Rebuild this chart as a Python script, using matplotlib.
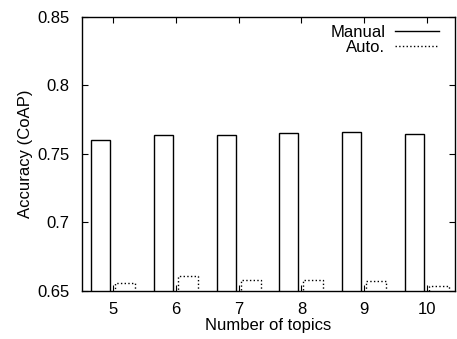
import numpy as np
import matplotlib
matplotlib.use("Agg")
import matplotlib.pyplot as plt
from matplotlib.lines import Line2D

plt.rcParams['font.family'] = ['Liberation Sans', 'DejaVu Sans']

topics = [5, 6, 7, 8, 9, 10]
manual = [0.760, 0.7637, 0.7637, 0.765, 0.766, 0.7645]
auto = [0.6555, 0.661, 0.658, 0.658, 0.657, 0.6535]

x = np.array(topics)
fig = plt.figure(figsize=(4.57, 3.39), dpi=100)
ax = fig.add_axes([0.179, 0.142, 0.817, 0.808])

ax.bar(x - 0.2, manual, width=0.3, bottom=0, facecolor='white',
       edgecolor='black', linewidth=1.0, label='Manual')
ax.bar(x + 0.19, auto, width=0.32, bottom=0, facecolor='white',
       edgecolor='black', linewidth=1.0, linestyle=':', label='Auto.')

ax.set_xlim(4.5, 10.45)
ax.set_ylim(0.65, 0.85)
ax.set_xticks(topics)
ax.set_yticks([0.65, 0.7, 0.75, 0.8, 0.85])
ax.set_yticklabels(['0.65', '0.7', '0.75', '0.8', '0.85'])
ax.tick_params(direction='in', top=True, right=True, labelsize=12, length=4)
ax.tick_params(axis='y', pad=9)
ax.tick_params(axis='x', pad=8)
for s in ax.spines.values():
    s.set_linewidth(1.0)

ax.set_xlabel('Number of topics', fontsize=12, labelpad=1)
ax.set_ylabel('Accuracy (CoAP)', fontsize=12, labelpad=3)

handles = [Line2D([], [], color='black', lw=1.0, ls='-'),
           Line2D([], [], color='black', lw=1.0, ls=':')]
ax.legend(handles, ['Manual', 'Auto.'], loc='upper right', frameon=False,
          bbox_to_anchor=(0.978, 1.0),
          markerfirst=False, fontsize=12, handlelength=2.6,
          labelspacing=0.0, borderaxespad=0.3, borderpad=0.2,
          handletextpad=0.6)

fig.savefig('out.png', dpi=100)
